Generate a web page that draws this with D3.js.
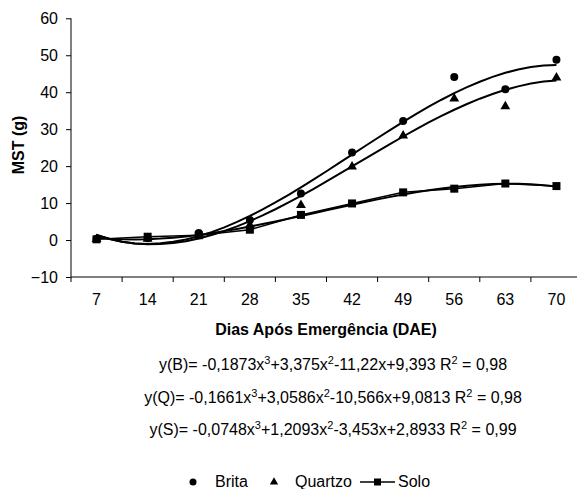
<!DOCTYPE html>
<html><head><meta charset="utf-8">
<script src="https://cdn.jsdelivr.net/npm/d3@7"></script>
<style>body{margin:0;background:#fff}svg{display:block;font-family:"Liberation Sans",Arial,sans-serif}</style>
</head><body><svg id="c" width="577" height="489"></svg>
<script>
const categories = ["7","14","21","28","35","42","49","56","63","70"];
const brita   = [0.3, 0.5, 1.9, 5.4, 12.6, 23.7, 32.2, 44.1, 40.8, 48.8];
const quartzo = [0.5, 0.6, 1.5, 4.3, 9.7, 20.1, 28.5, 38.5, 36.4, 44.2];
const solo    = [0.2, 0.9, 1.3, 2.8, 6.8, 9.9, 12.9, 13.9, 15.3, 14.6];
// trendline coefficients (x = category index 1..10): a3, a2, a1, a0
const coefB = [-0.1873, 3.375, -11.22, 9.393];
const coefQ = [-0.1661, 3.0586, -10.566, 9.0813];
const coefS = [-0.0748, 1.2093, -3.453, 2.8933];
const yTicks = [-10, 0, 10, 20, 30, 40, 50, 60];
const equations = [
  ["y(B)= -0,1873x", "3", "+3,375x", "2", "-11,22x+9,393 R", "2", " = 0,98"],
  ["y(Q)= -0,1661x", "3", "+3,0586x", "2", "-10,566x+9,0813 R", "2", " = 0,98"],
  ["y(S)= -0,0748x", "3", "+1,2093x", "2", "-3,453x+2,8933 R", "2", " = 0,99"]
];

const FS = 16;
const svg = d3.select("#c");
const L = 71, R = 582, T = 18.3, B = 277;
const x = d3.scaleBand().domain(categories).range([L, R]);
const xi = d3.scaleLinear().domain([1, 10]).range([x(categories[0]) + x.bandwidth()/2, x(categories[9]) + x.bandwidth()/2]);
const y = d3.scaleLinear().domain([-10, 60]).range([B, T]);

// y axis
const ya = svg.append("g").attr("transform", `translate(${L},0)`)
  .call(d3.axisLeft(y).tickValues(yTicks).tickSize(5).tickPadding(8));
ya.selectAll("text").attr("font-size", FS).attr("fill", "#000").attr("font-family", "Liberation Sans, Arial, sans-serif");
ya.selectAll("line,path").attr("stroke", "#000");
ya.select(".domain").attr("d", `M-0,${T}V${B}`);

// x axis with ticks at boundaries
const xg = svg.append("g");
xg.append("line").attr("x1", L).attr("x2", R).attr("y1", B).attr("y2", B).attr("stroke", "#000");
d3.range(categories.length + 1).forEach(i => {
  const px = L + i * x.step();
  xg.append("line").attr("x1", px).attr("x2", px).attr("y1", B).attr("y2", B + 5).attr("stroke", "#000");
});
xg.selectAll("text.xl").data(categories).enter().append("text")
  .attr("x", d => x(d) + x.bandwidth()/2).attr("y", 305).attr("text-anchor", "middle")
  .attr("font-size", FS).text(d => d);

svg.append("text").attr("x", 326).attr("y", 335).attr("text-anchor", "middle")
  .attr("font-size", FS).attr("font-weight", "bold").text("Dias Após Emergência (DAE)");
svg.append("text").attr("transform", "translate(24,145) rotate(-90)").attr("text-anchor", "middle")
  .attr("font-size", FS).attr("font-weight", "bold").text("MST (g)");

// trendlines
const poly = c => t => c[0]*t*t*t + c[1]*t*t + c[2]*t + c[3];
const ts = d3.range(1, 10.001, 0.25);
const line = d3.line().x(d => xi(d[0])).y(d => y(d[1]));
[coefB, coefQ, coefS].forEach(c => {
  const f = poly(c);
  svg.append("path").attr("d", line(ts.map(t => [t, f(t)])))
    .attr("fill", "none").attr("stroke", "#000").attr("stroke-width", 2);
});

// solo connecting line
svg.append("path").attr("d", line(solo.map((v, i) => [i + 1, v])))
  .attr("fill", "none").attr("stroke", "#000").attr("stroke-width", 1.5);

// markers
const cx = (d, i) => x(categories[i]) + x.bandwidth()/2;
svg.selectAll("circle.b").data(brita).enter().append("circle")
  .attr("cx", cx).attr("cy", d => y(d)).attr("r", 4).attr("fill", "#000");
const tri = d3.symbol().type(d3.symbolTriangle).size(42);
svg.selectAll("path.q").data(quartzo).enter().append("path")
  .attr("d", tri).attr("transform", (d, i) => `translate(${cx(d, i)},${y(d) + 1})`).attr("fill", "#000");
svg.selectAll("rect.s").data(solo).enter().append("rect")
  .attr("x", (d, i) => cx(d, i) - 4).attr("y", d => y(d) - 4).attr("width", 8).attr("height", 8).attr("fill", "#000");

// equations
equations.forEach((parts, k) => {
  const t = svg.append("text").attr("x", 333).attr("y", 370 + k * 32.5).attr("text-anchor", "middle").attr("font-size", FS);
  parts.forEach((p, j) => {
    if (j % 2 === 1) t.append("tspan").attr("font-size", 11).attr("dy", -6).text(p);
    else t.append("tspan").attr("dy", j === 0 ? 0 : 6).text(p);
  });
});

// legend
const ly = 487;
svg.append("circle").attr("cx", 193).attr("cy", ly - 5).attr("r", 3.5).attr("fill", "#000");
svg.append("text").attr("x", 215).attr("y", ly).attr("font-size", FS).text("Brita");
svg.append("path").attr("d", d3.symbol().type(d3.symbolTriangle).size(30)).attr("transform", `translate(274,${ly - 5})`).attr("fill", "#000");
svg.append("text").attr("x", 295).attr("y", ly).attr("font-size", FS).text("Quartzo");
svg.append("line").attr("x1", 360).attr("x2", 395).attr("y1", ly - 5).attr("y2", ly - 5).attr("stroke", "#000").attr("stroke-width", 1.5);
svg.append("rect").attr("x", 374).attr("y", ly - 8.5).attr("width", 7).attr("height", 7).attr("fill", "#000");
svg.append("text").attr("x", 398).attr("y", ly).attr("font-size", FS).text("Solo");
</script></body></html>
